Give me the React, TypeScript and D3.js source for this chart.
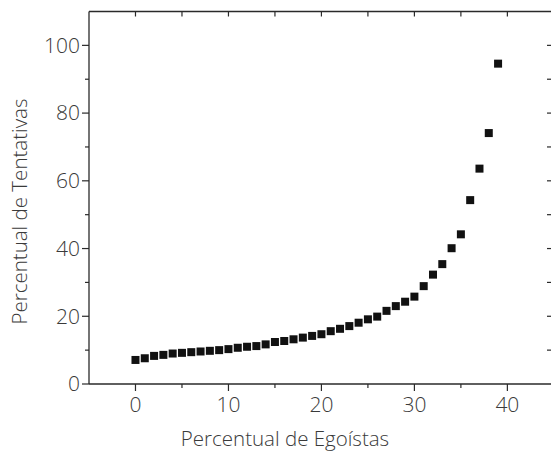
import React from "react";
import * as d3 from "d3";

const egoistas: number[] = [
  0, 1, 2, 3, 4, 5, 6, 7, 8, 9, 10, 11, 12, 13, 14, 15, 16, 17, 18, 19,
  20, 21, 22, 23, 24, 25, 26, 27, 28, 29, 30, 31, 32, 33, 34, 35, 36, 37, 38, 39,
];
const tentativas: number[] = [
  7.1, 7.6, 8.3, 8.6, 9.0, 9.2, 9.4, 9.6, 9.8, 10.0, 10.3, 10.7, 11.0, 11.2, 11.7,
  12.4, 12.7, 13.2, 13.7, 14.2, 14.7, 15.6, 16.3, 17.1, 18.1, 19.1, 19.9, 21.6,
  23.0, 24.3, 25.8, 28.9, 32.3, 35.4, 40.1, 44.2, 54.3, 63.6, 74.1, 94.6,
];
const xMajorTicks: number[] = [0, 10, 20, 30, 40];
const xMinorTicks: number[] = [5, 15, 25, 35];
const xTopTicks: number[] = [0, 5, 10, 15, 20, 25, 30, 35, 40];
const yMajorTicks: number[] = [0, 20, 40, 60, 80, 100];
const yMinorTicks: number[] = [10, 30, 50, 70, 90];
const yRightTicks: number[] = [10, 20, 30, 40, 50, 60, 70, 80, 90, 100];
const xTitle = "Percentual de Egoístas";
const yTitle = "Percentual de Tentativas";

const W = 551;
const H = 452;
const left = 89;
const right = 552;
const top = 11.5;
const bottom = 384;

export default function App() {
  const x = d3.scaleLinear().domain([-5, 44.8]).range([left, right]);
  const y = d3.scaleLinear().domain([0, 110]).range([bottom, top]);
  const axisColor = "#2a2a2a";
  const textColor = "#3a3a3a";
  const font = "'Open Sans', sans-serif";
  const sq = 8;
  return (
    <svg
      width={W}
      height={H}
      style={{ position: "absolute", left: 0, top: 0, background: "#fff" }}
      fontFamily={font}
    >
      <rect x={0} y={0} width={W} height={H} fill="#fff" />
      {/* frame */}
      <line x1={left} x2={W} y1={top} y2={top} stroke={axisColor} strokeWidth={1.3} />
      <line x1={left} x2={W} y1={bottom} y2={bottom} stroke={axisColor} strokeWidth={1.3} />
      <line x1={left} x2={left} y1={top} y2={bottom} stroke={axisColor} strokeWidth={1.3} />
      <line x1={right} x2={right} y1={top} y2={bottom} stroke={axisColor} strokeWidth={1.3} />
      {/* top ticks inward */}
      {xTopTicks.map((t) => (
        <line key={"tt" + t} x1={x(t)} x2={x(t)} y1={top} y2={top + 5} stroke={axisColor} strokeWidth={1.2} />
      ))}
      {/* bottom ticks */}
      {xMajorTicks.map((t) => (
        <line key={"bm" + t} x1={x(t)} x2={x(t)} y1={bottom} y2={bottom + 7} stroke={axisColor} strokeWidth={1.2} />
      ))}
      {xMinorTicks.map((t) => (
        <line key={"bn" + t} x1={x(t)} x2={x(t)} y1={bottom} y2={bottom + 4} stroke={axisColor} strokeWidth={1.2} />
      ))}
      {/* left ticks */}
      {yMajorTicks.map((t) => (
        <line key={"lm" + t} x1={left - 7} x2={left} y1={y(t)} y2={y(t)} stroke={axisColor} strokeWidth={1.2} />
      ))}
      {yMinorTicks.map((t) => (
        <line key={"ln" + t} x1={left - 4} x2={left} y1={y(t)} y2={y(t)} stroke={axisColor} strokeWidth={1.2} />
      ))}
      {/* right ticks inward */}
      {yRightTicks.map((t) => (
        <line key={"r" + t} x1={right - 5} x2={right} y1={y(t)} y2={y(t)} stroke={axisColor} strokeWidth={1.2} />
      ))}
      {/* tick labels */}
      {xMajorTicks.map((t) => (
        <text key={"xl" + t} x={x(t)} y={bottom + 28} textAnchor="middle" fontSize={21} fontWeight={300} fill={textColor}>
          {t}
        </text>
      ))}
      {yMajorTicks.map((t) => (
        <text key={"yl" + t} x={left - 9} y={y(t)} dy="0.35em" textAnchor="end" fontSize={21} fontWeight={300} fill={textColor}>
          {t}
        </text>
      ))}
      {/* axis titles */}
      <text x={285} y={446} textAnchor="middle" fontSize={20.5} fontWeight={300} fill={textColor}>
        {xTitle}
      </text>
      <text
        transform={`translate(27, 211.5) rotate(-90)`}
        textAnchor="middle"
        fontSize={20.5}
        fontWeight={300}
        fill={textColor}
      >
        {yTitle}
      </text>
      {/* points */}
      {egoistas.map((e, i) => (
        <rect
          key={"p" + i}
          x={x(e) - sq / 2}
          y={y(tentativas[i]) - sq / 2}
          width={sq}
          height={sq}
          fill="#111"
        />
      ))}
    </svg>
  );
}
